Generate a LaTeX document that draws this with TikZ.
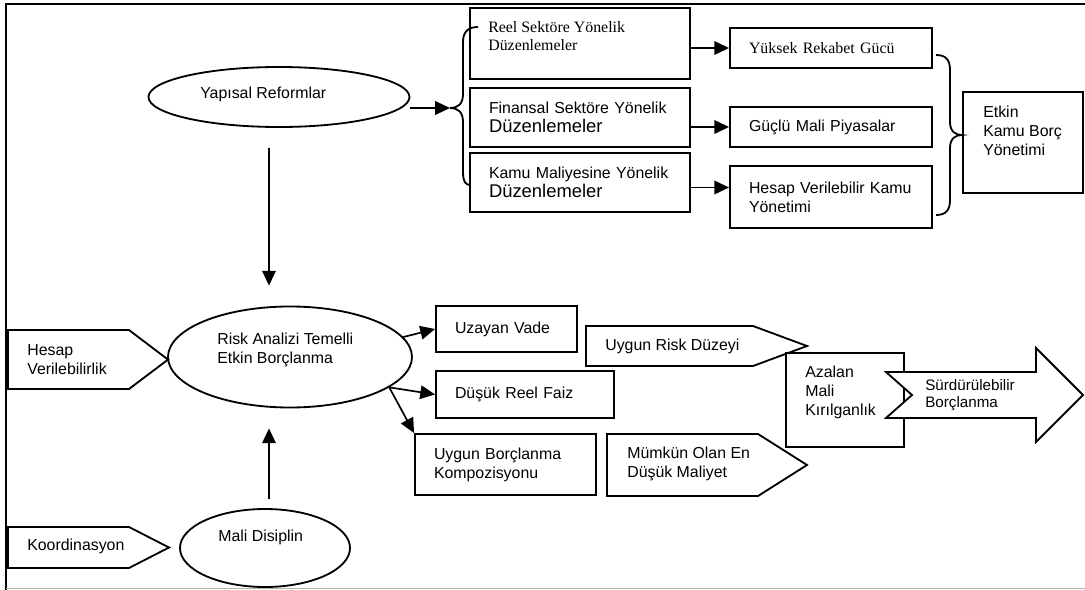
\documentclass[tikz,border=0pt]{standalone}
\usepackage{fontspec}
\setmainfont{Liberation Sans}
\newfontfamily\timesfont{Liberation Serif}
\usetikzlibrary{arrows.meta,shapes.geometric}

\begin{document}
\begin{tikzpicture}[
    box/.style={draw,line width=1.3pt,fill=white,inner xsep=0.475cm,inner ysep=0pt,
      align=left,font=\fontsize{11.3}{13.5}\selectfont},
    oval/.style={draw,ellipse,line width=1.3pt,fill=white,inner sep=0pt},
    txt/.style={align=left,inner sep=0pt,anchor=west,font=\fontsize{11.3}{13.5}\selectfont},
    sign/.style={draw,line width=1.3pt,fill=white},
    brc/.style={line width=1.3pt},
    arr/.style={-{Triangle[length=0.37cm,width=0.34cm]},line width=1.2pt}
  ]
    \useasboundingbox (0,0) rectangle (27.125,-14.75);
    % frame
    \draw[line width=1.3pt] (27.125,-0.10) -- (0.15,-0.10) -- (0.15,-14.75);
    \draw[gray!60,line width=0.8pt] (0.15,-14.72) -- (27.125,-14.72);

    % reforms
    \node[oval,minimum width=6.525cm,minimum height=1.5cm] (yapisal) at (6.975,-2.425) {};
    \node[txt] (yapisaltxt) at (5.0,-2.35) {Yapısal Reformlar};

    \node[box,minimum width=5.5cm,minimum height=1.775cm] (reel) at (14.5,-1.0875) {};
    \node[txt,font=\timesfont\fontsize{11.3}{12.8}\selectfont] (reeltxt) at (12.2,-0.90)
      {Reel Sektöre Yönelik\\Düzenlemeler};
    \node[box,text width=4.55cm,minimum height=1.475cm] (finansal) at (14.5,-2.9375)
      {Finansal~Sektöre~Yönelik\\{\fontsize{13.1}{15}\selectfont Düzenlemeler}};
    \node[box,text width=4.55cm,minimum height=1.475cm] (kamu) at (14.5,-4.5625)
      {Kamu~Maliyesine~Yönelik\\{\fontsize{13.1}{15}\selectfont Düzenlemeler}};

    \node[box,text width=4.1cm,minimum height=1.0cm,font=\timesfont\fontsize{11.3}{13}\selectfont]
      (yuksek) at (20.775,-1.20) {Yüksek Rekabet Gücü};
    \node[box,text width=4.1cm,minimum height=1.0cm] (guclu) at (20.775,-3.175) {Güçlü Mali Piyasalar};
    \node[box,text width=4.1cm,minimum height=1.55cm] (hesapkamu) at (20.775,-4.925)
      {Hesap~Verilebilir~Kamu\\Yönetimi};

    \node[box,minimum width=3.0cm,minimum height=2.525cm] (etkin) at (25.575,-3.5625) {};
    \node[txt] (etkintxt) at (24.575,-3.275) {Etkin\\Kamu Borç\\Yönetimi};

    % braces
    \coordinate (lbrace) at (11.25,-2.70);
    \draw[brc] (11.95,-0.675) .. controls (11.70,-0.675) and (11.575,-0.80) .. (11.575,-1.05)
      -- (11.575,-2.35) .. controls (11.575,-2.60) and (11.45,-2.70) .. (lbrace)
      .. controls (11.45,-2.70) and (11.575,-2.80) .. (11.575,-3.05)
      -- (11.575,-4.30) .. controls (11.575,-4.55) and (11.65,-4.625) .. (11.75,-4.625);
    \coordinate (rbrace) at (24.05,-3.375);
    \draw[brc] (23.40,-1.375) .. controls (23.65,-1.375) and (23.75,-1.50) .. (23.75,-1.75)
      -- (23.75,-3.05) .. controls (23.75,-3.30) and (23.90,-3.375) .. (rbrace)
      .. controls (23.90,-3.375) and (23.75,-3.45) .. (23.75,-3.70)
      -- (23.75,-5.00) .. controls (23.75,-5.25) and (23.65,-5.375) .. (23.40,-5.375);

    \draw[arr] (yapisal.east |- lbrace) -- (lbrace);
    \draw[arr] (reel.east |- yuksek.west) -- (yuksek.west);
    \draw[arr] (finansal.east |- guclu.west) -- (guclu.west);
    \coordinate (kamuout) at ([yshift=-0.125cm]kamu.east);
    \draw[arr] (kamuout) -- (kamuout -| hesapkamu.west);

    % borrowing
    \node[oval,minimum width=6.10cm,minimum height=2.525cm] (risk) at (7.25,-8.925) {};
    \node[txt] (risktxt) at (5.425,-8.7375) {Risk Analizi Temelli\\Etkin Borçlanma};
    \draw[arr] ([xshift=-0.25cm,yshift=-0.5cm]yapisal.south) -- ([xshift=-0.525cm,yshift=0.5cm]risk.north);

    \draw[sign] (0.20,-8.25) -- (3.225,-8.25) -- (4.20,-8.99) -- (3.225,-9.725) -- (0.20,-9.725) -- cycle;
    \node[txt] (hesaptxt) at (0.675,-8.99) {Hesap\\Verilebilirlik};

    \node[oval,minimum width=4.25cm,minimum height=1.95cm] (mali) at (6.625,-13.70) {};
    \node[txt] (malitxt) at (5.45,-13.425) {Mali Disiplin};
    \draw[arr] ([xshift=0.1cm,yshift=0.225cm]mali.north) -- ([xshift=-0.525cm,yshift=-0.5cm]risk.south);

    \draw[sign] (0.20,-13.175) -- (3.225,-13.175) -- (4.225,-13.6875) -- (3.225,-14.20) -- (0.20,-14.20) -- cycle;
    \node[txt] (koordtxt) at (0.675,-13.65) {Koordinasyon};

    \node[box,text width=2.575cm,minimum height=1.15cm] (uzayan) at (12.6625,-8.225) {Uzayan Vade};
    \node[box,text width=3.50cm,minimum height=1.175cm] (dusuk) at (13.125,-9.8625) {Düşük Reel Faiz};
    \node[box,text width=3.575cm,minimum height=1.525cm] (uygunborc) at (12.6375,-11.6125)
      {Uygun~Borçlanma\\Kompozisyonu};
    \draw[arr] (risk.10) -- (uzayan.west);
    \draw[arr] (risk.-17) -- (dusuk.west);
    \draw[arr] (risk.-17) -- (uygunborc.north west);

    % outcomes
    \draw[sign] (14.65,-8.15) -- (18.825,-8.15) -- (20.175,-8.65) -- (18.825,-9.15) -- (14.65,-9.15) -- cycle;
    \node[txt] (uygunrisktxt) at (15.125,-8.65) {Uygun Risk Düzeyi};
    \draw[sign] (15.175,-10.85) -- (18.95,-10.85) -- (20.175,-11.625) -- (18.95,-12.40) -- (15.175,-12.40) -- cycle;
    \node[txt] (mumkuntxt) at (15.675,-11.59) {Mümkün Olan En\\Düşük Maliyet};

    \node[box,minimum width=2.95cm,minimum height=2.35cm] (azalan) at (21.125,-10.0) {};
    \node[txt] (azalantxt) at (20.125,-9.80) {Azalan\\Mali\\Kırılganlık};

    \draw[sign] (22.15,-9.30) -- (25.90,-9.30) -- (25.90,-8.70) -- (27.075,-9.875) -- (25.90,-11.05)
      -- (25.90,-10.45) -- (22.15,-10.45) -- (22.80,-9.875) -- cycle;
    \node[txt,font=\fontsize{10.8}{12.6}\selectfont] (surdtxt) at (23.125,-9.875) {Sürdürülebilir\\Borçlanma};
  \end{tikzpicture}
\end{document}
